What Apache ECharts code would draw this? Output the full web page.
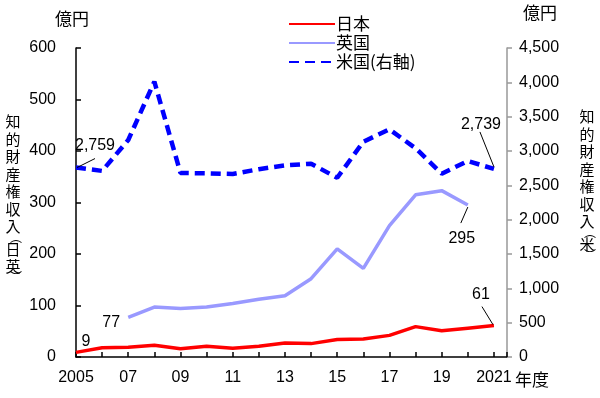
<!DOCTYPE html>
<html lang="ja">
<head>
<meta charset="UTF-8">
<title>知的財産権収入</title>
<script src="https://cdn.jsdelivr.net/npm/echarts@6/dist/echarts.min.js"></script>
<style>
  body { margin: 0; background: #fff; }
  #chart { width: 600px; height: 398px; }
</style>
</head>
<body>
<div id="chart"></div>
<script>
// 年度
const years = [2005, 2006, 2007, 2008, 2009, 2010, 2011, 2012, 2013, 2014, 2015, 2016, 2017, 2018, 2019, 2020, 2021];
// 日本・英国 (左軸, 億円)
const japan = [9, 18, 19, 23, 16, 21, 17, 21, 27, 26, 34, 35, 42, 59, 51, 56, 61];
const uk = [null, null, 77, 97, 94, 97, 104, 112, 119, 152, 210, 172, 255, 315, 323, 295, null];
// 米国 (右軸, 億円)
const us = [2759, 2710, 3160, 4010, 2680, 2675, 2665, 2735, 2790, 2815, 2610, 3135, 3315, 3040, 2670, 2855, 2739];

const FONT = "'Liberation Sans','Noto Sans CJK JP',sans-serif";
const JP = "'Noto Sans CJK JP',sans-serif";

// 注記の位置 (系列番号 -> データ番号 -> [dx, dy])
const notePlace = [
  { 0: [10, 3], 16: [-13, -17] },
  { 2: [-17, 19], 15: [-6, 47] },
  { 0: [19, -8], 16: [-13, -31] }
];
// 引出線 (系列番号, データ番号, 点からのずれ: 始点, 終点)
const leaders = [
  [2, 0, [1, 0], [19, -9]],
  [2, 16, [0, -2], [-14, -37]],
  [1, 15, [0, 2], [-7, 18]],
  [0, 16, [-1, -1], [-12, -19]]
];
const seriesVals = [japan, uk, us];
const seriesAxis = [0, 0, 1];

function pairs(vals) {
  return years.map((y, i) => [y, vals[i]]);
}
function fmt(v) {
  return v.toLocaleString('en-US');
}
// 注記つきの点（透明な小さな記号にラベルを載せる）
function withNotes(vals, s, textOf) {
  const data = pairs(vals);
  Object.keys(notePlace[s]).forEach(k => {
    const i = Number(k);
    data[i] = {
      value: data[i],
      symbol: 'circle',
      symbolSize: 1,
      itemStyle: { color: 'rgba(0,0,0,0)' },
      label: { show: true, position: 'top', formatter: textOf(vals[i]) }
    };
  });
  return data;
}
function layoutNote(params) {
  const p = (notePlace[params.seriesIndex] || {})[params.dataIndex];
  return p ? { dx: p[0], dy: p[1] } : {};
}

function vertical(chars) {
  // 縦書き: 括弧は小さく右寄せ
  return chars.map(c => (c === '︵' || c === '︶') ? '{p|' + c + '}' : '{c|' + c + '}').join('\n');
}
const vRich = {
  c: { fontFamily: JP, fontSize: 15, lineHeight: 17.5, color: '#000', align: 'center' },
  p: { fontFamily: JP, fontSize: 12, lineHeight: 5, color: '#000', align: 'center', padding: [0, 0, 0, 6] }
};

const chart = echarts.init(document.getElementById('chart'));
chart.setOption({
  animation: false,
  textStyle: { fontFamily: FONT, color: '#000' },
  grid: { left: 76, right: 93, top: 48, bottom: 41 },
  legend: {
    orient: 'vertical',
    left: 283,
    top: 10,
    itemWidth: 46,
    itemHeight: 14,
    itemGap: 1,
    itemStyle: { opacity: 0 },
    textStyle: { fontFamily: JP, fontSize: 17, lineHeight: 18, color: '#000', padding: [0, 0, 0, -4] },
    data: ['日本', '英国', '米国(右軸)']
  },
  xAxis: {
    type: 'value',
    min: 2005,
    max: 2021.5,
    interval: 1,
    splitLine: { show: false },
    axisLine: { lineStyle: { color: '#000', width: 1.5 } },
    axisTick: { inside: true, length: 5, lineStyle: { color: '#000', width: 1.5 } },
    axisLabel: {
      fontSize: 16,
      margin: 13,
      color: '#000',
      formatter: function (v) {
        if (v % 2 !== 1) return '';
        if (v === years[0] || v === years[years.length - 1]) return String(v);
        return String(v).slice(2);
      }
    }
  },
  yAxis: [
    {
      type: 'value',
      min: 0, max: 600, interval: 100,
      splitLine: { show: false },
      axisLine: { show: true, lineStyle: { color: '#000', width: 1.5 } },
      axisTick: { show: true, inside: true, length: 5, lineStyle: { color: '#000', width: 1.5 } },
      axisLabel: { fontSize: 16, margin: 20, color: '#000' }
    },
    {
      type: 'value',
      position: 'right',
      min: 0, max: 4500, interval: 500,
      splitLine: { show: false },
      axisLine: { show: true, lineStyle: { color: '#999', width: 1.5 } },
      axisTick: { show: true, length: 5, lineStyle: { color: '#999', width: 1.5 } },
      axisLabel: { fontSize: 16, margin: 12, color: '#000', formatter: fmt }
    }
  ],
  series: [
    {
      name: '日本', type: 'line', yAxisIndex: 0, symbol: 'none', z: 4,
      lineStyle: { color: '#ff0000', width: 3.5 },
      itemStyle: { color: '#ff0000' },
      label: { fontSize: 16, color: '#000' },
      labelLayout: layoutNote,
      data: withNotes(japan, 0, String)
    },
    {
      name: '英国', type: 'line', yAxisIndex: 0, symbol: 'none', z: 3,
      lineStyle: { color: '#9999ff', width: 3.5 },
      itemStyle: { color: '#9999ff' },
      label: { fontSize: 16, color: '#000' },
      labelLayout: layoutNote,
      data: withNotes(uk, 1, String)
    },
    {
      name: '米国(右軸)', type: 'line', yAxisIndex: 1, symbol: 'none', z: 2,
      lineStyle: { color: '#0000ff', width: 4.5, type: [10, 6] },
      itemStyle: { color: '#0000ff' },
      label: { fontSize: 16, color: '#000' },
      labelLayout: layoutNote,
      data: withNotes(us, 2, fmt)
    }
  ],
  graphic: [
    { type: 'text', left: 55, top: 10, style: { text: '億円', fontFamily: JP, fontSize: 17, fill: '#000' } },
    { type: 'text', left: 523, top: 4, style: { text: '億円', fontFamily: JP, fontSize: 17, fill: '#000' } },
    { type: 'text', left: 515, top: 371, style: { text: '年度', fontFamily: JP, fontSize: 17, fill: '#000' } },
    { type: 'text', left: 4, top: 114, style: { text: vertical(['知', '的', '財', '産', '権', '収', '入', '︵', '日', '英', '︶']), rich: vRich } },
    { type: 'text', left: 578, top: 109, style: { text: vertical(['知', '的', '財', '産', '権', '収', '入', '︵', '米', '︶']), rich: vRich } }
  ]
});

// 引出線: データ点の位置は軸から求める
const leaderLines = leaders.map((l, n) => {
  const s = l[0], i = l[1];
  const p = chart.convertToPixel({ xAxisIndex: 0, yAxisIndex: seriesAxis[s] }, [years[i], seriesVals[s][i]]);
  return {
    type: 'line', id: 'leader' + n, z: 10,
    shape: { x1: p[0] + l[2][0], y1: p[1] + l[2][1], x2: p[0] + l[3][0], y2: p[1] + l[3][1] },
    style: { stroke: '#000', lineWidth: 1 }
  };
});
chart.setOption({ graphic: leaderLines });
</script>
</body>
</html>
